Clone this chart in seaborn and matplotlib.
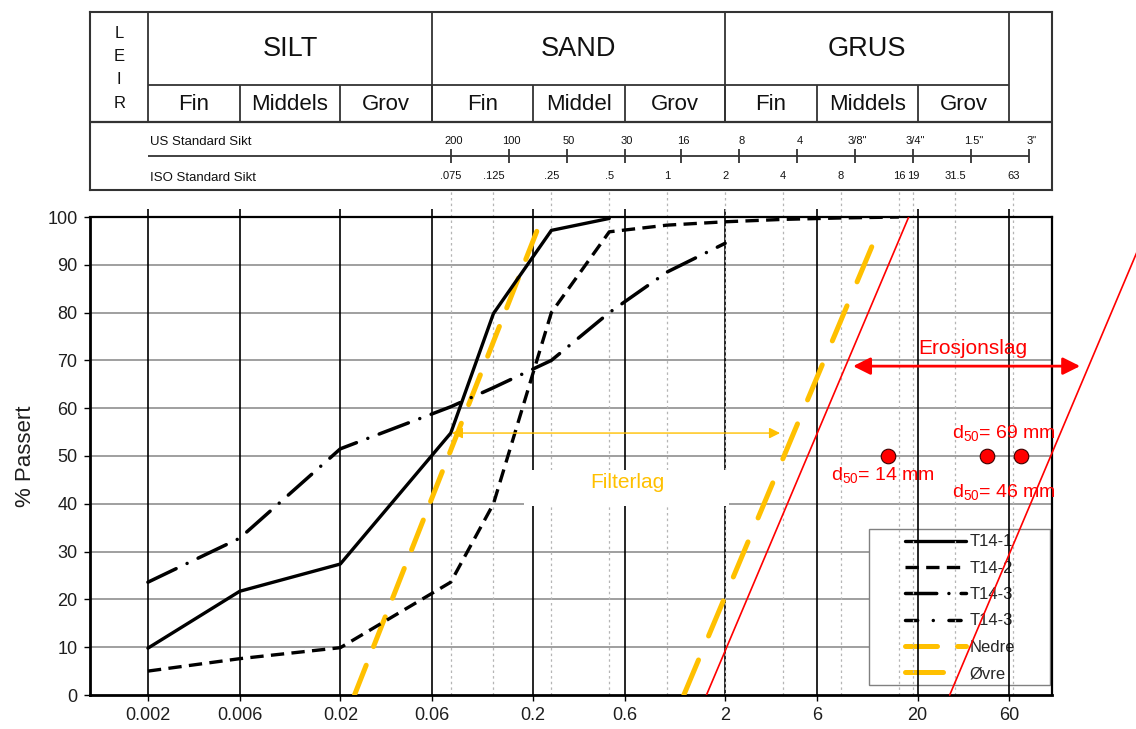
import matplotlib
matplotlib.use("Agg")
import matplotlib.pyplot as plt
from matplotlib.lines import Line2D
from matplotlib.patches import Rectangle
import seaborn as sns

# ---- sieve analyses: grain size (mm) and % passing ----
t14_1_size = [0.002, 0.006, 0.02, 0.075, 0.125, 0.25, 0.5]
t14_1_pass = [9.8, 21.7, 27.4, 54.8, 79.8, 97.2, 99.7]

t14_2_size = [0.002, 0.006, 0.02, 0.075, 0.125, 0.25, 0.5, 1, 2, 4, 8, 16]
t14_2_pass = [5.0, 7.6, 9.9, 23.6, 40.0, 80.0, 96.9, 98.3, 99.0, 99.5, 99.8, 100.0]

t14_3_size = [0.002, 0.006, 0.02, 0.075, 0.125, 0.25, 0.5, 1, 2]
t14_3_pass = [23.6, 32.8, 51.5, 60.3, 64.3, 70.0, 80.0, 88.5, 94.5]

# ---- filter criteria (lower / upper grading limits) ----
nedre_size = [0.0237, 0.21]
nedre_pass = [0, 97]
ovre_size = [1.22, 12.5]
ovre_pass = [0, 97]

# ---- erosion layer grading limits ----
eros_lo_size = [1.6, 18]
eros_lo_pass = [0, 100]
eros_hi_size = [29.4, 330]
eros_hi_pass = [0, 100]

# ---- d50 of the erosion layer stones ----
d50_size = [14, 46, 69]
d50_pass = [50, 50, 50]

# ---- axis ticks ----
x_ticks = [0.002, 0.006, 0.02, 0.06, 0.2, 0.6, 2, 6, 20, 60]
x_tick_labels = ["0.002", "0.006", "0.02", "0.06", "0.2", "0.6", "2", "6", "20", "60"]
y_ticks = [0, 10, 20, 30, 40, 50, 60, 70, 80, 90, 100]

# ---- classification header ----
main_classes = ["SILT", "SAND", "GRUS"]
main_bounds = [0.002, 0.06, 2, 60]
sub_classes = ["Fin", "Middels", "Grov", "Fin", "Middel", "Grov", "Fin", "Middels", "Grov"]
sub_bounds = [0.002, 0.006, 0.02, 0.06, 0.2, 0.6, 2, 6, 20, 60]
us_sieve_mm = [0.075, 0.15, 0.3, 0.6, 1.18, 2.36, 4.75, 9.5, 19, 38.1, 76.2]
us_sieve_labels = ["200", "100", "50", "30", "16", "8", "4", '3/8"', '3/4"', '1.5"', '3"']
iso_sieve_mm = [0.075, 0.125, 0.25, 0.5, 1, 2, 4, 8, 16, 19, 31.5, 63]
iso_sieve_labels = [".075", ".125", ".25", ".5", "1", "2", "4", "8", "16", "19", "31.5", "63"]

sns.set_theme(style="white")
plt.rcParams["font.family"] = ["Liberation Sans", "DejaVu Sans"]
plt.rcParams["mathtext.fontset"] = "custom"
plt.rcParams["mathtext.rm"] = "Liberation Sans"
plt.rcParams["mathtext.it"] = "Liberation Sans:italic"
plt.rcParams["mathtext.bf"] = "Liberation Sans:bold"

YELLOW = "#FFC000"
RED = "#FF0000"
XLIM = (0.001, 100)

fig = plt.figure(figsize=(11.36, 7.29), dpi=100)
W, H = 1136, 729
left, right = 90, 1052
ax = fig.add_axes([left / W, (H - 695) / H, (right - left) / W, (695 - 217) / H])
hax = fig.add_axes([left / W, (H - 190) / H, (right - left) / W, (190 - 12) / H])

# ================= main grading chart =================
ax.set_xscale("log")
ax.set_xlim(*XLIM)
ax.set_ylim(0, 100)

# grid: grey horizontal, black vertical at class limits, dotted at ISO sieves
for yv in y_ticks[1:-1]:
    ax.axhline(yv, color="#8f8f8f", lw=1.2, zorder=1)
ax.vlines(x_ticks, 0, 101.6, color="black", lw=1.2, zorder=2, clip_on=False)
ax.vlines(iso_sieve_mm, 0, 105.6, color="#b5b5b5", lw=0.9, linestyles=(0, (2, 2.5)),
          zorder=2, clip_on=False)

# white label panel for the filter layer text
ax.add_patch(Rectangle((0.18, 39.6), 2.1 - 0.18, 7.5, facecolor="white",
                       edgecolor="none", zorder=2.2))

sns.lineplot(x=t14_1_size, y=t14_1_pass, ax=ax, color="black", lw=2.4,
             label="T14-1", zorder=4, legend=False)
sns.lineplot(x=t14_2_size, y=t14_2_pass, ax=ax, color="black", lw=2.4,
             linestyle=(0, (4, 2.2)), label="T14-2", zorder=4, legend=False)
sns.lineplot(x=t14_3_size, y=t14_3_pass, ax=ax, color="black", lw=2.5,
             linestyle=(0, (9, 3.5, 0.01, 3.5)), dash_capstyle="round",
             label="T14-3", zorder=4, legend=False)
sns.lineplot(x=nedre_size, y=nedre_pass, ax=ax, color=YELLOW, lw=3.6,
             linestyle=(0, (6.4, 4)), dash_capstyle="round", label="Nedre",
             zorder=3.5, legend=False)
sns.lineplot(x=ovre_size, y=ovre_pass, ax=ax, color=YELLOW, lw=3.6,
             linestyle=(0, (7.6, 5.2)), dash_capstyle="round", label="Øvre",
             zorder=3.5, legend=False)
sns.lineplot(x=eros_lo_size, y=eros_lo_pass, ax=ax, color=RED, lw=1.2,
             zorder=4.5, legend=False)
sns.lineplot(x=eros_hi_size, y=eros_hi_pass, ax=ax, color=RED, lw=1.2,
             zorder=4.5, legend=False)
ax.lines[-1].set_clip_on(False)

sns.scatterplot(x=d50_size, y=d50_pass, ax=ax, color=RED, s=110,
                edgecolor="#3a0000", linewidth=0.8, zorder=5, legend=False)

# filter and erosion layer spans
ax.annotate("", xy=(0.076, 54.8), xytext=(3.86, 54.8),
            arrowprops=dict(arrowstyle="<|-|>", color=YELLOW, lw=1.0,
                            mutation_scale=16, shrinkA=0, shrinkB=0), zorder=4)
ax.text(0.618, 44.4, "Filterlag", color=YELLOW, fontsize=15,
        ha="center", va="center", zorder=4)
ax.annotate("", xy=(9.25, 68.8), xytext=(140, 68.8), annotation_clip=False,
            arrowprops=dict(arrowstyle="<|-|>", color=RED, lw=2.0,
                            mutation_scale=26, shrinkA=0, shrinkB=0), zorder=5)
ax.text(38.8, 72.4, "Erosjonslag", color=RED, fontsize=15,
        ha="center", va="center", zorder=5)

d50_label_pos = [(13.2, 46.0), (56.4, 42.4), (56.4, 54.9)]
for val, (lx, ly) in zip(d50_size, d50_label_pos):
    ax.text(lx, ly, "d$_{\\mathrm{50}}$= %d mm" % val, color=RED, fontsize=14,
            ha="center", va="center", zorder=5, clip_on=False)

ax.set_xticks(x_ticks)
ax.set_xticklabels(x_tick_labels)
ax.xaxis.set_minor_locator(matplotlib.ticker.NullLocator())
ax.set_yticks(y_ticks)
ax.tick_params(axis="both", which="major", labelsize=13, labelcolor="#1e1e1e",
               length=4, width=1.0, color="black", direction="out", pad=5,
               left=True, bottom=True)
ax.set_ylabel("% Passert", fontsize=16, color="#1e1e1e")
ax.yaxis.set_label_coords(-0.056, 0.5)
ax.set_xlabel("")
for side in ["left", "bottom"]:
    ax.spines[side].set_linewidth(2.0)
for side in ["top", "right"]:
    ax.spines[side].set_linewidth(1.6)
for sp in ax.spines.values():
    sp.set_color("black")
    sp.set_visible(True)

# legend: white panel with grey border, entries placed inside it
ax.add_patch(Rectangle((0.8098, 0.0209), 0.998 - 0.8098, 0.3473 - 0.0209,
                       transform=ax.transAxes, facecolor="white", edgecolor="#808080",
                       lw=1.0, zorder=1.5))
line_by_label = {ln.get_label(): ln for ln in ax.lines}
extra_t14_3 = Line2D([], [], color="black", lw=2.5,
                     linestyle=(0, (3.5, 4.5, 0.01, 4.5)), dash_capstyle="round")
handles = [line_by_label["T14-1"], line_by_label["T14-2"], line_by_label["T14-3"],
           extra_t14_3, line_by_label["Nedre"], line_by_label["Øvre"]]
labels = ["T14-1", "T14-2", "T14-3", "T14-3", "Nedre", "Øvre"]
leg = ax.legend(handles, labels, loc="upper left", bbox_to_anchor=(0.847, 0.336),
                fontsize=12, handlelength=3.7, handletextpad=0.2,
                labelspacing=0.68, borderpad=0, borderaxespad=0, frameon=False)
leg.set_zorder(1.6)

# ================= classification header =================
hax.set_xscale("log")
hax.set_xlim(*XLIM)
hax.set_ylim(178, 0)
hax.set_xticks([])
hax.set_yticks([])
hax.xaxis.set_minor_locator(matplotlib.ticker.NullLocator())
for sp in hax.spines.values():
    sp.set_visible(True)
    sp.set_color("#333333")
    sp.set_linewidth(1.5)

hc = "#333333"
hax.vlines(main_bounds, 0, 110, color=hc, lw=1.3)
hax.vlines(sub_bounds[1:-1], 73, 110, color=hc, lw=1.3)
hax.hlines(73, main_bounds[0], main_bounds[-1], color=hc, lw=1.3)
hax.hlines(110, XLIM[0], XLIM[1], color=hc, lw=1.6)

for name, a, b in zip(main_classes, main_bounds[:-1], main_bounds[1:]):
    hax.text((a * b) ** 0.5, 36.5, name, fontsize=19.5, ha="center", va="center",
             color="#111111")
for name, a, b in zip(sub_classes, sub_bounds[:-1], sub_bounds[1:]):
    hax.text((a * b) ** 0.5, 92, name, fontsize=16, ha="center", va="center",
             color="#111111")
for letter, ly in zip("LEIR", [21, 44.5, 68, 91.5]):
    hax.text(0.00142, ly, letter, fontsize=12, ha="center", va="center",
             color="#111111")

hax.text(0.00205, 130, "US Standard Sikt", fontsize=9.5, ha="left", va="center",
         color="#111111")
hax.text(0.00205, 166, "ISO Standard Sikt", fontsize=9.5, ha="left", va="center",
         color="#111111")
hax.hlines(144, 0.002, us_sieve_mm[-1], color=hc, lw=1.3)
hax.vlines(us_sieve_mm, 137, 151, color=hc, lw=1.3)
for mm, lab in zip(us_sieve_mm, us_sieve_labels):
    hax.text(mm * 1.03, 129, lab, fontsize=8, ha="center", va="center", color="#111111")
for mm, lab in zip(iso_sieve_mm, iso_sieve_labels):
    hax.text(mm, 164, lab, fontsize=8, ha="center", va="center", color="#111111")

fig.savefig("out.png", dpi=100)
